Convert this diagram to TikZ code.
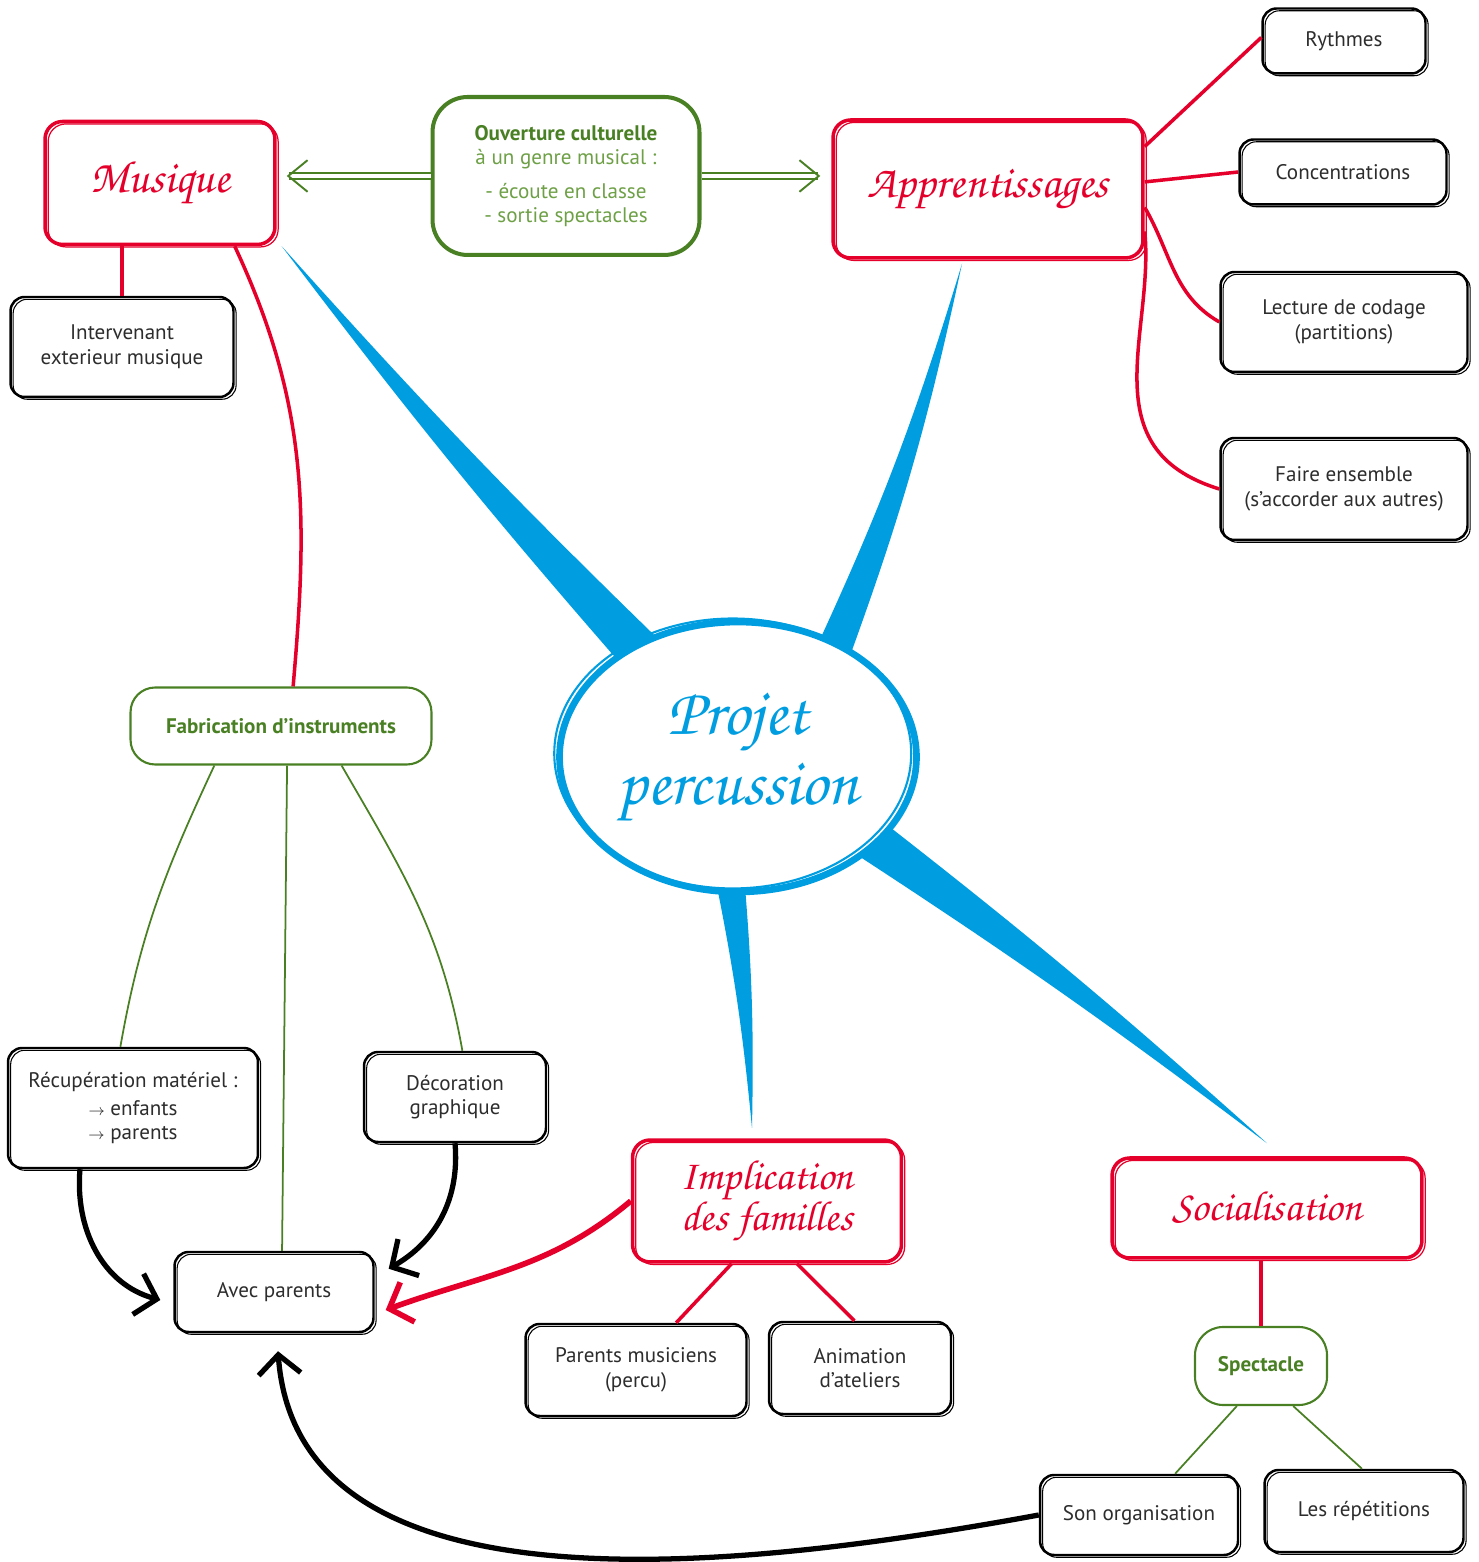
\documentclass[tikz,border=0pt]{standalone}
\usepackage{fontspec}
\setmainfont{PT Sans}
\newfontfamily\chorus{TeX Gyre Chorus}
\usepackage{tikz}
\usetikzlibrary{arrows.meta,shapes.geometric,positioning,calc}
\usepackage{xcolor}
\definecolor{cred}{RGB}{228,0,43}
\definecolor{cgreen}{RGB}{74,128,36}
\definecolor{clgreen}{RGB}{110,160,70}
\definecolor{cblue}{RGB}{0,158,224}
\definecolor{ctext}{RGB}{45,45,45}
\pgfdeclarelayer{background}
\pgfsetlayers{background,main}
\tikzstyle{theme} = [rectangle, rounded corners=10pt, draw=cred, line width=2pt, fill=white, text=cred, align=center, inner sep=0pt, font=\chorus\fontsize{26}{24}\selectfont, postaction={draw=cred, line width=0.7pt, transform canvas={xshift=1.8pt,yshift=-1.4pt}}]
\tikzstyle{leaf} = [rectangle, rounded corners=8pt, draw=black, line width=1.4pt, fill=white, text=ctext, align=center, inner sep=0pt, font=\fontsize{12}{14}\selectfont, postaction={draw=black, line width=0.6pt, transform canvas={xshift=1.5pt,yshift=-1.3pt}}]
\tikzstyle{group} = [rectangle, rounded corners=14pt, draw=cgreen, line width=1.2pt, fill=white, text=cgreen, align=center, inner sep=0pt, font=\bfseries\fontsize{12}{14}\selectfont]
\tikzstyle{redlink} = [draw=cred, line width=2pt]
\tikzstyle{greenlink} = [draw=cgreen, line width=1pt]
\tikzstyle{pointer} = [line width=3pt, -{Straight Barb[length=11pt,width=24pt]}]
\tikzstyle{twin} = [draw=cgreen, double=white, double distance=2.6pt, line width=1.1pt, -{Straight Barb[length=11pt,width=18pt]}]
% tapered blue branch: from, to, half width, bend
\newcommand{\branch}[4]{\fill[cblue] ($(#1)!#3!90:(#2)$) to[bend left=#4] (#2) to[bend right=#4] ($(#1)!#3!-90:(#2)$) -- cycle;}

\begin{document}
\begin{tikzpicture}[x=0.02cm,y=0.02cm]
\useasboundingbox (0,0) rectangle (1479,1562);

% Central project
\node[ellipse, draw=cblue, line width=3.8pt, fill=white, minimum width=7.1cm, minimum height=5.4cm, text=cblue, align=center, font=\chorus\fontsize{38}{40}\selectfont, postaction={draw=cblue, line width=1.2pt, transform canvas={xshift=-3pt,yshift=2pt}}] (proj) at (738,805) {Projet\\percussion};

% Main themes
\node[theme, minimum width=4.6cm, minimum height=2.46cm] (mus) at (160,1379) {Musique};
\node[theme, minimum width=6.2cm, minimum height=2.76cm] (app) at (988,1373) {Apprentissages};
\node[theme, minimum width=5.38cm, minimum height=2.44cm, font=\chorus\fontsize{24}{22}\selectfont] (imp) at (767,361) {Implication\\des familles};
\node[theme, minimum width=6.2cm, minimum height=2cm, font=\chorus\fontsize{24}{22}\selectfont] (soc) at (1267,354) {Socialisation};

% Green groups
\node[group, rounded corners=20pt, line width=2.3pt, minimum width=5.34cm, minimum height=3.16cm, text=clgreen, font=\fontsize{12}{14}\selectfont] (ouv) at (566,1386) {{\bfseries\color{cgreen}Ouverture culturelle}\\à un genre musical :\\[5pt]- écoute en classe\\- sortie spectacles};
\node[group, minimum width=6.02cm, minimum height=1.54cm] (fab) at (281,836) {Fabrication d'instruments};
\node[group, rounded corners=16pt, minimum width=2.64cm, minimum height=1.56cm] (spe) at (1261,196) {Spectacle};

% Leaves
\node[leaf, minimum width=3.26cm, minimum height=1.3cm] (ryt) at (1344,1521) {Rythmes};
\node[leaf, minimum width=4.14cm, minimum height=1.3cm] (con) at (1343,1390) {Concentrations};
\node[leaf, minimum width=4.94cm, minimum height=2cm] (lec) at (1344,1240) {Lecture de codage\\(partitions)};
\node[leaf, minimum width=4.94cm, minimum height=2.04cm] (fai) at (1344,1073) {Faire ensemble\\(s’accorder aux autres)};
\node[leaf, minimum width=4.46cm, minimum height=2cm] (int) at (122,1215) {Intervenant\\exterieur musique};
\node[leaf, minimum width=5cm, minimum height=2.4cm] (rec) at (133,454) {Récupération matériel :\\[2pt]{\small$\rightarrow$} enfants\\{\small$\rightarrow$} parents};
\node[leaf, minimum width=3.64cm, minimum height=1.8cm] (dec) at (455,465) {Décoration\\graphique};
\node[leaf, minimum width=3.98cm, minimum height=1.6cm] (avp) at (274,270) {Avec parents};
\node[leaf, minimum width=4.42cm, minimum height=1.84cm] (pmu) at (636,192) {Parents musiciens\\(percu)};
\node[leaf, minimum width=3.64cm, minimum height=1.84cm] (ani) at (860,194) {Animation\\d'ateliers};
\node[leaf, minimum width=3.96cm, minimum height=1.6cm] (son) at (1139,47) {Son organisation};
\node[leaf, minimum width=3.98cm, minimum height=1.64cm] (rep) at (1364,51) {Les répétitions};

% Blue branches
\begin{pgfonlayer}{background}
\branch{$(proj.center)!0.8!(proj.133)$}{$(mus.south east)+(5,0)$}{0.46cm}{2}
\branch{$(proj.center)!0.8!(proj.45)$}{$(app.south)+(-26,-4)$}{0.36cm}{-4}
\branch{$(proj.center)!0.8!(proj.-95)$}{$(imp.north)+(-15,10)$}{0.3cm}{3}
\branch{$(proj.center)!0.8!(proj.-31)$}{$(soc.north)+(0,13)$}{0.44cm}{2}
\end{pgfonlayer}

% Red links
\draw[redlink, line width=2.4pt] (int.north |- mus.south) -- (int.north);
\draw[redlink] ($(mus.south west)!0.82!(mus.south east)$) to[out=-65, in=85] ($(fab.north west)!0.54!(fab.north east)$);
\draw[redlink] ($(app.north east)!0.2!(app.south east)$) -- ([yshift=2pt]ryt.west);
\draw[redlink] ($(app.north east)!0.45!(app.south east)$) -- (con.west);
\draw[redlink] ($(app.north east)!0.63!(app.south east)$) to[out=-60, in=150] (lec.west);
\draw[redlink] ($(app.north east)!0.8!(app.south east)$) .. controls +(10,-100) and +(-130,40) .. (fai.west);
\draw[redlink] ($(imp.south west)!0.37!(imp.south east)$) -- ($(pmu.north west)!0.68!(pmu.north east)$);
\draw[redlink] ($(imp.south west)!0.61!(imp.south east)$) -- ($(ani.north west)!0.47!(ani.north east)$);
\draw[redlink, line width=2.4pt] (spe.north |- soc.south) -- (spe.north);

% Green links
\draw[greenlink] ($(fab.south west)!0.28!(fab.south east)$) to[out=-115, in=80] ($(rec.north west)!0.45!(rec.north east)$);
\draw[greenlink] ($(fab.south west)!0.52!(fab.south east)$) -- ($(avp.north west)!0.54!(avp.north east)$);
\draw[greenlink] ($(fab.south west)!0.7!(fab.south east)$) to[out=-60, in=100] ($(dec.north west)!0.54!(dec.north east)$);
\draw[greenlink] ($(spe.south west)!0.32!(spe.south east)$) -- ($(son.north west)!0.68!(son.north east)$);
\draw[greenlink] ($(spe.south west)!0.74!(spe.south east)$) -- ($(rep.north west)!0.49!(rep.north east)$);

% Arrows
\draw[twin, shorten >=0.2cm] (ouv.west) -- (ouv.west -| mus.east);
\draw[twin, shorten >=0.22cm] (ouv.east) -- (ouv.east -| app.west);
\draw[pointer] ($(rec.south west)!0.29!(rec.south east)$) to[out=-95, in=165] ([shift={(-13,-8)}]avp.west);
\draw[pointer] (dec.south) to[out=-85, in=30] ([shift={(14,-18)}]avp.north east);
\draw[pointer, draw=cred, line width=3.2pt] (imp.west) to[out=220, in=20] ([shift={(11,-18)}]avp.east);
\draw[pointer] (son.west) .. controls +(-300,-55) and +(20,-270) .. ([shift={(4,-18)}]avp.south);
\end{tikzpicture}
\end{document}
